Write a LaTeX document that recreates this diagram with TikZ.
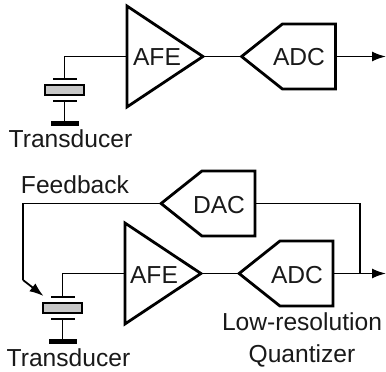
\documentclass[tikz,border=0pt]{standalone}
\usepackage{fontspec}
\setmainfont{Liberation Sans}
\usetikzlibrary{positioning,arrows.meta,shapes.geometric,shapes.symbols}
\tikzset{
    amp-box/.style = {draw, line width=2.8pt, isosceles triangle, isosceles triangle stretches, shape border rotate=0, minimum width=101pt, minimum height=76pt, inner sep=0pt, outer sep=0pt},
    conv-box/.style = {draw, line width=2.8pt, signal, signal to=west, signal pointer angle=77, minimum width=94pt, minimum height=65pt, inner sep=0pt, outer sep=0pt},
    crystal-box/.style = {draw, fill=black!22, line width=2pt, rectangle, minimum width=39pt, minimum height=10pt, inner sep=0pt, outer sep=0pt},
    plate-bar/.style = {fill=black, rectangle, minimum width=24pt, minimum height=2pt, inner sep=0pt, outer sep=0pt},
    ground-bar/.style = {fill=black, rectangle, minimum width=28pt, minimum height=4.5pt, inner sep=0pt, outer sep=0pt},
    wire/.style = {line width=1.8pt},
    out-wire/.style = {line width=1.8pt, -{Latex[length=14pt,width=10pt]}},
    caption-text/.style = {inner sep=0pt, font=\fontsize{24.6}{24.6}\selectfont, text=black!90},
}
\begin{document}
\begin{tikzpicture}[x=1pt,y=-1pt]
\useasboundingbox (0,0) rectangle (386,372);
% upper chain
\node [amp-box] (afe1) at (154,56.5) {};
\node [caption-text] (afe1-text) at (157,57) {AFE};
\node [conv-box] (adc1) at (309,56.5) {};
\node [caption-text] (adc1-text) at (299,57) {ADC};
\node [crystal-box] (xtal1) at (64.5,90) {};
\node [plate-bar, above=5pt of xtal1] (top1) {};
\node [plate-bar, below=5pt of xtal1] (bot1) {};
\node [ground-bar, below=19pt of bot1] (gnd1) {};
\node [caption-text] (name1) at (70.5,139) {Transducer};
\coordinate (out1) at (386,56.5);
\draw [wire] (afe1.west) -| (top1.north);
\draw [wire] (bot1.south) -- (gnd1.north);
\draw [wire] (afe1.apex) -- (adc1.west);
\draw [out-wire] (adc1.east) -- (out1);
% lower chain with feedback
\node [amp-box] (afe2) at (152,273.5) {};
\node [caption-text] (afe2-text) at (154,275) {AFE};
\node [conv-box] (adc2) at (306.5,273.5) {};
\node [caption-text] (adc2-text) at (297,275) {ADC};
\node [conv-box] (dac2) at (228.5,203.5) {};
\node [caption-text] (dac2-text) at (219,205) {DAC};
\node [crystal-box] (xtal2) at (62.5,308) {};
\node [plate-bar, above=5pt of xtal2] (top2) {};
\node [plate-bar, below=5pt of xtal2] (bot2) {};
\node [ground-bar, below=19pt of bot2] (gnd2) {};
\node [caption-text] (name2) at (68.5,358) {Transducer};
\node [caption-text] (fb-text) at (75,185) {Feedback};
\node [caption-text] (lowres) at (302,322) {Low-resolution};
\node [caption-text, below=13pt of lowres] (quant) {Quantizer};
\coordinate (out2) at (386,273.5);
\coordinate (tap2) at (360,273.5);
\coordinate (fb-corner) at (23,203.5);
\coordinate (fb-knee) at (23,280);
\coordinate (fb-end) at (43.5,296);
\draw [wire] (afe2.west) -| (top2.north);
\draw [wire] (bot2.south) -- (gnd2.north);
\draw [wire] (afe2.apex) -- (adc2.west);
\draw [out-wire] (adc2.east) -- (out2);
\draw [wire] (dac2.east) -| (tap2);
\draw [wire] (dac2.west) -- (fb-corner) -- (fb-knee);
\draw [out-wire] (fb-knee) -- (fb-end);
\end{tikzpicture}
\end{document}
